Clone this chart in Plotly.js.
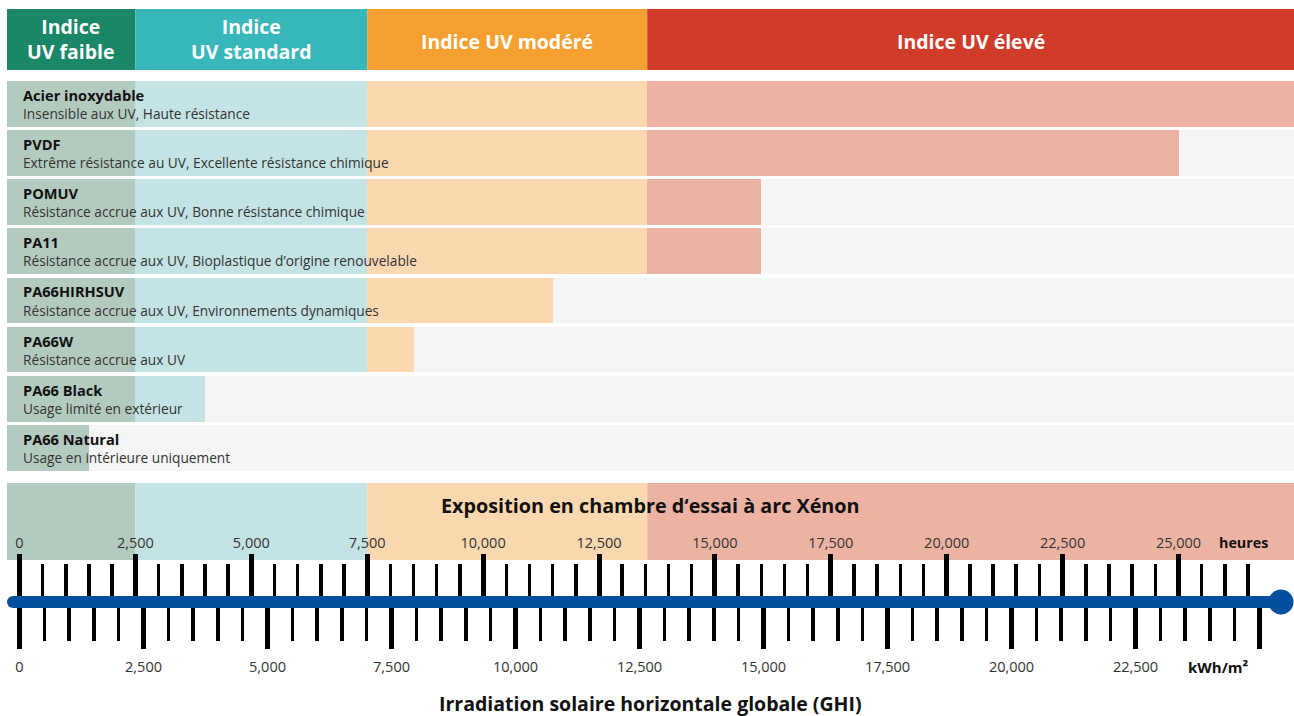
<!DOCTYPE html>
<html><head><meta charset="utf-8">
<script src="https://cdn.plot.ly/plotly-3.0.1.min.js"></script>
<style>html,body{margin:0;padding:0;background:#fff}#chart{width:1294px;height:716px}</style>
</head><body><div id="chart"></div>
<script>
// ---- data ----
const materials = ["Acier inoxydable","PVDF","POMUV","PA11","PA66HIRHSUV","PA66W","PA66 Black","PA66 Natural"];
const descriptions = [
  "Insensible aux UV, Haute résistance",
  "Extrême résistance au UV, Excellente résistance chimique",
  "Résistance accrue aux UV, Bonne résistance chimique",
  "Résistance accrue aux UV, Bioplastique d’origine renouvelable",
  "Résistance accrue aux UV, Environnements dynamiques",
  "Résistance accrue aux UV",
  "Usage limité en extérieur",
  "Usage en intérieure uniquement"
];
const resistanceHours = [27500, 25000, 16000, 16000, 11500, 8500, 4000, 1500];
const zoneLabels = ["Indice<br>UV faible","Indice<br>UV standard","Indice UV modéré","Indice UV élevé"];
const zoneEnds = [2500, 7500, 13540, 27500];
const zoneStrong = ["#1a8769","#37b7ba","#f5a031","#d13b2a"];
const zoneLight = ["#b3cbbf","#c4e3e5","#fbd8b0","#edb3a2"];
const hoursTickVals = [0,2500,5000,7500,10000,12500,15000,17500,20000,22500,25000];
const kwhTickVals = [0,2500,5000,7500,10000,12500,15000,17500,20000,22500,25000];
const kwhTickText = ["0","2,500","5,000","7,500","10,000","12,500","15,000","17,500","20,000","22,500",""];

// ---- geometry ----
const W = 1294, H = 716;
const PX_PER_HOUR = 0.04636, PX_PER_KWH = 0.0496, ZERO_PX = 19.5, LEFT_PX = 7;
const hAt = p => (p - ZERO_PX) / PX_PER_HOUR;
const kAt = p => (p - ZERO_PX) / PX_PER_KWH;
const xMin = hAt(LEFT_PX), xMax = hAt(W);
const py = p => 1 - p / H;
const pxr = p => p / W;
const FONT = "Open Sans";
const RULER_Y = 602;

// ---- traces ----
const traces = [];
traces.push({
  type: "bar", orientation: "h", y: materials,
  x: materials.map(() => xMax - xMin), base: xMin,
  marker: {color: "#f5f5f5", line: {width: 0}}, width: 0.93, hoverinfo: "skip", showlegend: false
});
zoneEnds.forEach((hi, i) => {
  const lo = i === 0 ? xMin : zoneEnds[i - 1];
  traces.push({
    type: "bar", orientation: "h", y: materials,
    x: resistanceHours.map(v => Math.max(0, Math.min(v, hi) - lo)), base: lo,
    marker: {color: zoneLight[i], line: {width: 0}}, width: 0.93, hoverinfo: "skip", showlegend: false
  });
});
traces.push({type: "scatter", x: [], y: [], xaxis: "x2", yaxis: "y", showlegend: false});
traces.push({type: "scatter", x: [], y: [], xaxis: "x3", yaxis: "y", showlegend: false});

// ---- shapes ----
const shapes = [];
zoneEnds.forEach((hi, i) => {
  const lo = i === 0 ? xMin : zoneEnds[i - 1];
  const hiC = Math.min(hi, xMax);
  shapes.push({type: "rect", xref: "x", yref: "paper", x0: lo, x1: hiC, y0: py(70), y1: py(9),
    fillcolor: zoneStrong[i], line: {width: 0}, layer: "below"});
  shapes.push({type: "rect", xref: "x", yref: "paper", x0: lo, x1: hiC, y0: py(560), y1: py(483),
    fillcolor: zoneLight[i], line: {width: 0}, layer: "below"});
});
shapes.push({type: "line", xref: "paper", yref: "paper", x0: pxr(13), x1: pxr(1281), y0: py(RULER_Y), y1: py(RULER_Y),
  line: {color: "#00509e", width: 12}});
shapes.push({type: "circle", xref: "paper", yref: "paper", x0: pxr(7), x1: pxr(19), y0: py(RULER_Y + 6), y1: py(RULER_Y - 6),
  fillcolor: "#00509e", line: {width: 0}});
shapes.push({type: "circle", xref: "paper", yref: "paper", x0: pxr(1281 - 12.5), x1: pxr(1281 + 12.5),
  y0: py(RULER_Y + 12.5), y1: py(RULER_Y - 12.5), fillcolor: "#00509e", line: {width: 0}});

// ---- annotations ----
const annotations = [];
const ann = o => annotations.push(Object.assign({showarrow: false, xanchor: "center", yanchor: "middle"}, o));
zoneEnds.forEach((hi, i) => {
  const lo = i === 0 ? xMin : zoneEnds[i - 1];
  const hiC = Math.min(hi, xMax);
  const twoLine = zoneLabels[i].indexOf("<br>") >= 0;
  ann({xref: "paper", yref: "paper", x: 0, xref: "x", y: py(twoLine ? 39 : 41.5), text: "<b>" + zoneLabels[i] + "</b>",
    font: {family: FONT, size: 19.5, color: "#ffffff"}});
  annotations[annotations.length - 1].x = (lo + hiC) / 2;
});
materials.forEach((m, i) => {
  ann({xref: "paper", yref: "y", x: pxr(21), y: m, xanchor: "left", yshift: 9,
    text: "<b>" + m + "</b>", font: {family: FONT, size: 14.6, color: "#111"}});
  ann({xref: "paper", yref: "y", x: pxr(21), y: m, xanchor: "left", yshift: -9.7,
    text: descriptions[i], font: {family: FONT, size: 13.7, color: "#333"}});
});
ann({xref: "paper", yref: "paper", x: pxr(650), y: py(505), text: "<b>Exposition en chambre d‘essai à arc Xénon</b>",
  font: {family: FONT, size: 19.8, color: "#111"}});
ann({xref: "paper", yref: "paper", x: pxr(650), y: py(703), text: "<b>Irradiation solaire horizontale globale (GHI)</b>",
  font: {family: FONT, size: 19.5, color: "#111"}});
ann({xref: "paper", yref: "paper", x: pxr(1243), y: py(542), text: "<b>heures</b>",
  font: {family: FONT, size: 14.3, color: "#111"}});
ann({xref: "paper", yref: "paper", x: pxr(1218), y: py(667), text: "<b>kWh/m²</b>",
  font: {family: FONT, size: 15, color: "#111"}});

const tickFont = {family: FONT, size: 14.5, color: "#333"};
const layout = {
  width: W, height: H, margin: {l: 0, r: 0, t: 0, b: 0},
  paper_bgcolor: "#ffffff", plot_bgcolor: "rgba(0,0,0,0)",
  barmode: "overlay", bargap: 0, showlegend: false,
  xaxis: {domain: [pxr(LEFT_PX), 1], range: [xMin, xMax], visible: false, fixedrange: true},
  yaxis: {domain: [py(472.4), py(79.3)], type: "category", categoryarray: materials, categoryorder: "array",
    range: [7.5, -0.5], visible: false, fixedrange: true},
  xaxis2: {domain: [pxr(LEFT_PX), pxr(1260)], range: [xMin, hAt(1260)], anchor: "free", position: py(RULER_Y),
    side: "top", tickmode: "array", tickvals: hoursTickVals, tickformat: ",", ticks: "outside",
    ticklen: 48, tickwidth: 5, tickcolor: "#000", showline: false, showgrid: false, zeroline: false,
    tickfont: tickFont, fixedrange: true, ticklabelstandoff: 0,
    minor: {tick0: 0, dtick: 500, ticks: "outside", ticklen: 38, tickwidth: 3.5, tickcolor: "#000", showgrid: false}},
  xaxis3: {domain: [pxr(LEFT_PX), pxr(1265)], range: [kAt(LEFT_PX), kAt(1265)], anchor: "free", position: py(RULER_Y),
    side: "bottom", tickmode: "array", tickvals: kwhTickVals, ticktext: kwhTickText, ticks: "outside",
    ticklen: 46, tickwidth: 5, tickcolor: "#000", showline: false, showgrid: false, zeroline: false,
    tickfont: tickFont, fixedrange: true, ticklabelstandoff: 6,
    minor: {tick0: 0, dtick: 500, ticks: "outside", ticklen: 38, tickwidth: 3.5, tickcolor: "#000", showgrid: false}},
  shapes: shapes, annotations: annotations
};
Plotly.newPlot("chart", traces, layout, {displayModeBar: false, staticPlot: true});
</script></body></html>
